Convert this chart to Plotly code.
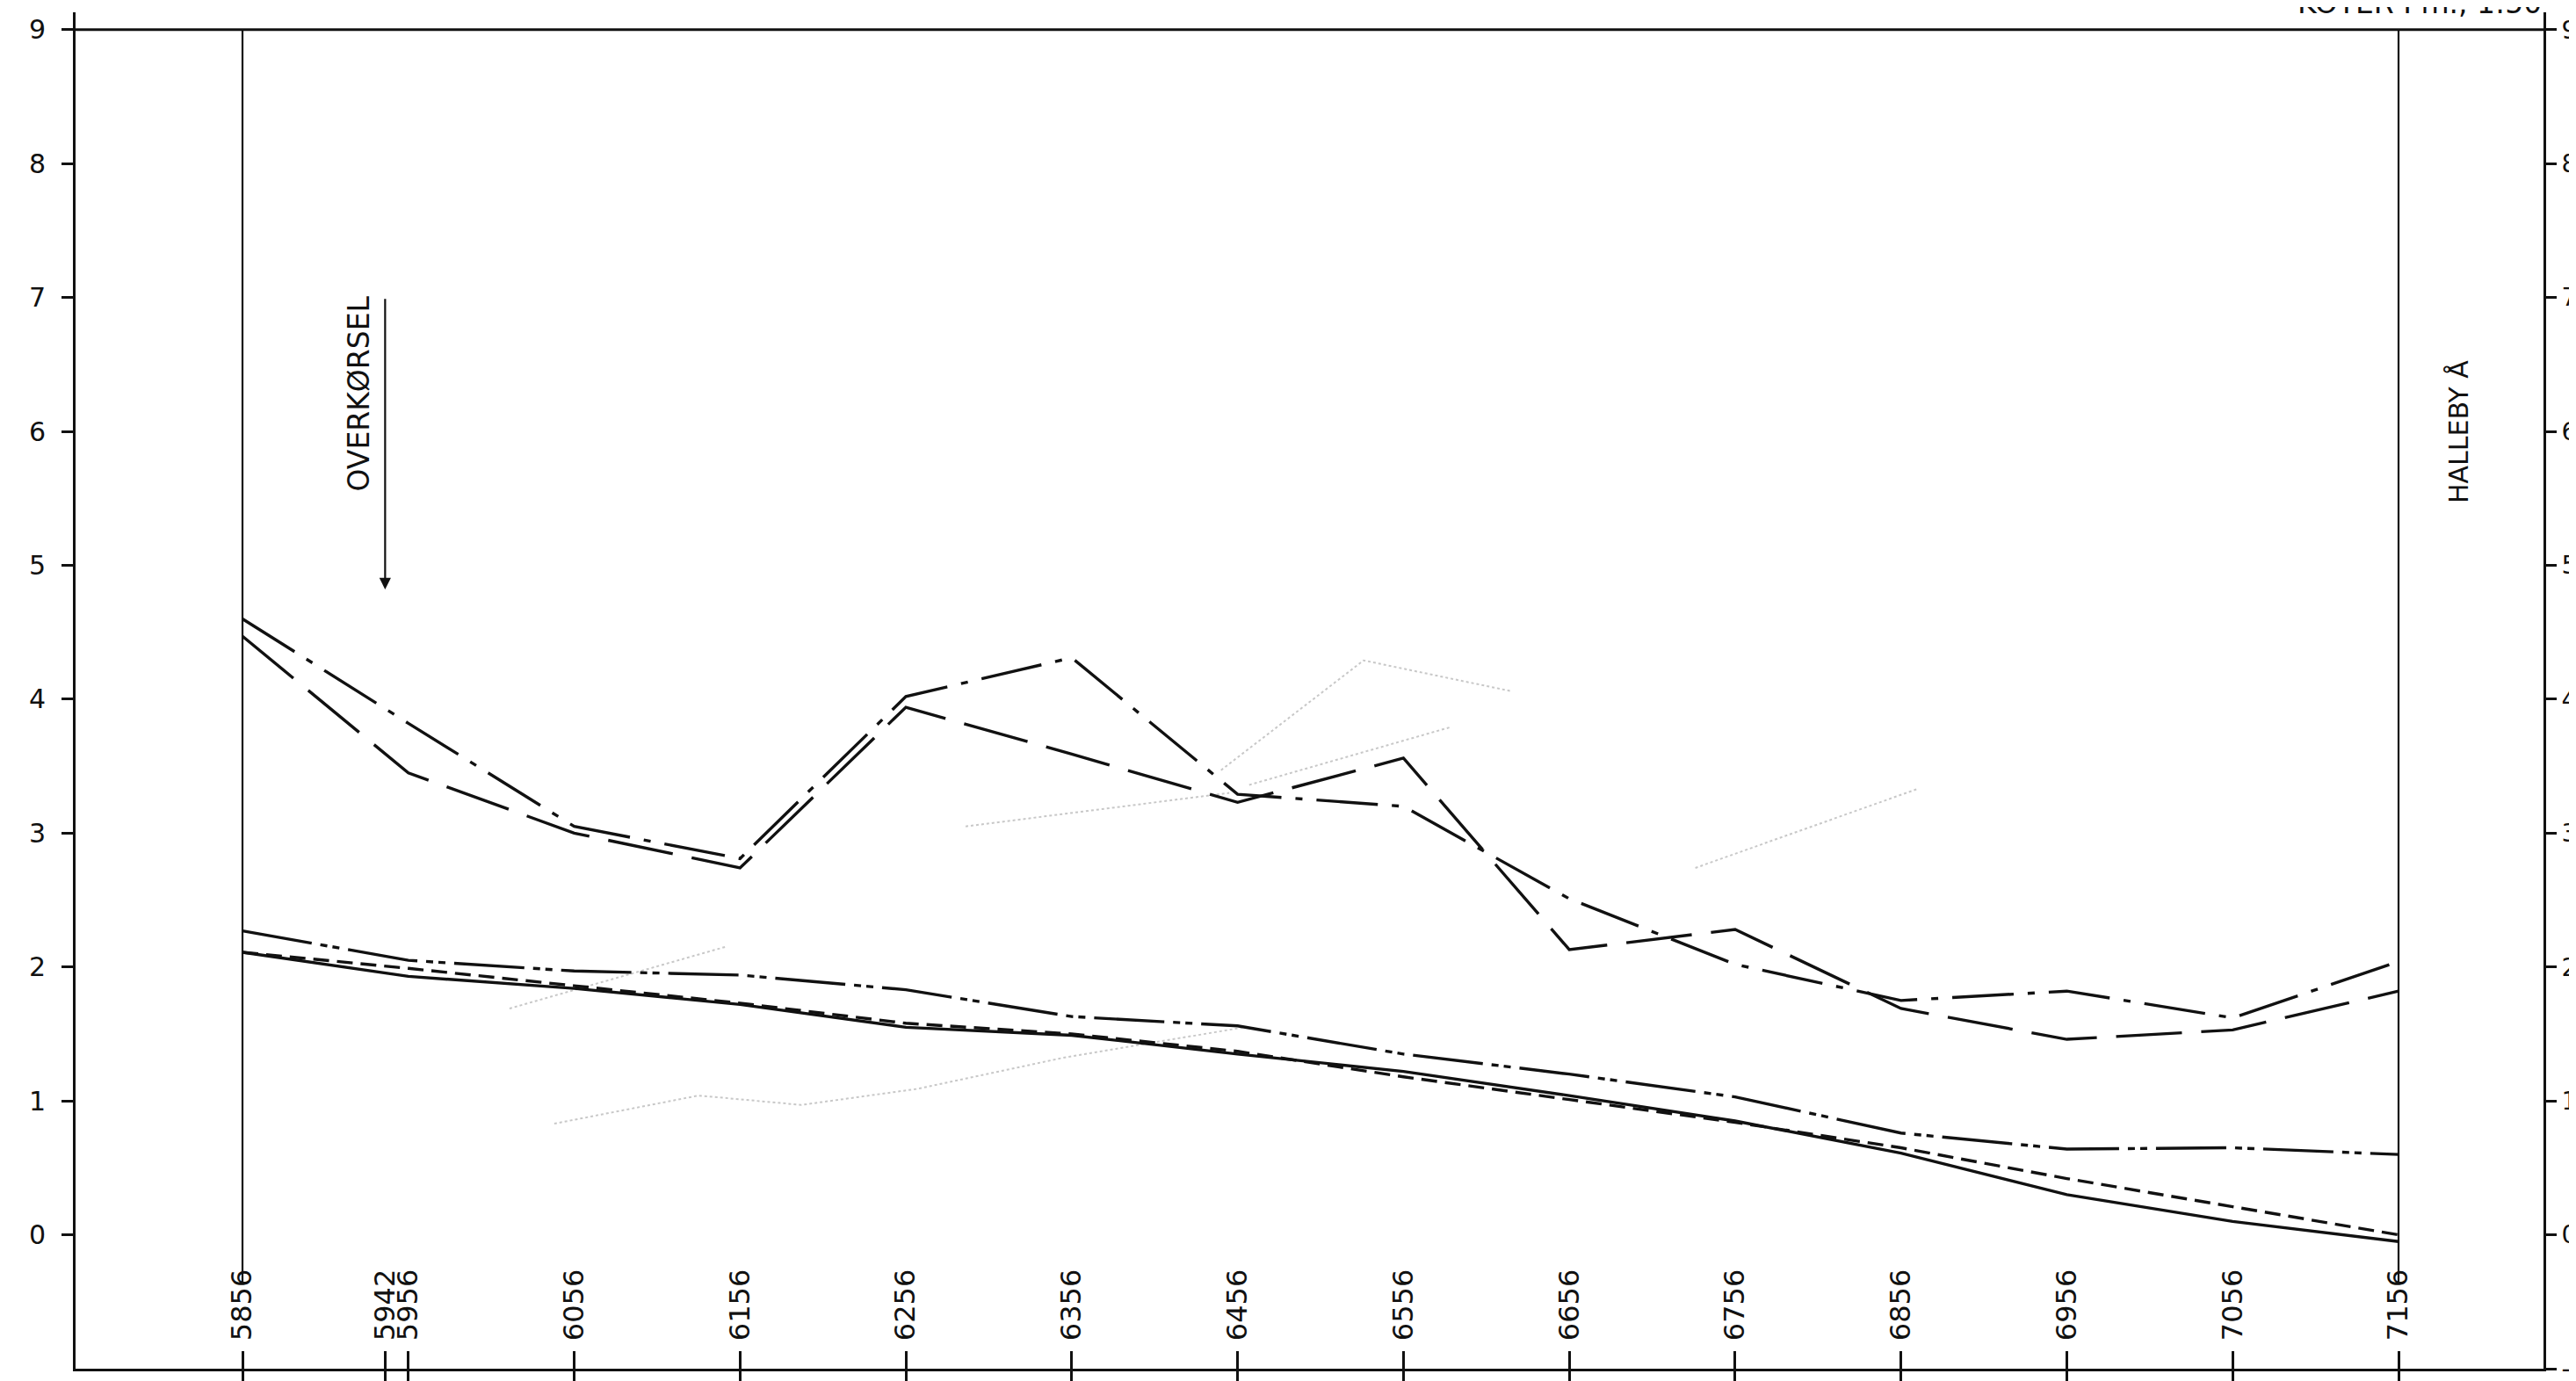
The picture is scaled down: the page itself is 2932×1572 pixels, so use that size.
import plotly.graph_objects as go

# ---------------- data ----------------
stations = [5856, 5956, 6056, 6156, 6256, 6356, 6456, 6556, 6656, 6756, 6856, 6956, 7056, 7156]
tick_stations = [5856, 5942, 5956, 6056, 6156, 6256, 6356, 6456, 6556, 6656, 6756, 6856, 6956, 7056, 7156]
tick_labels = [str(s) for s in tick_stations]

y_ticks = [-1, 0, 1, 2, 3, 4, 5, 6, 7, 8, 9]
y_labels_left = ["- 1", "0", "1", "2", "3", "4", "5", "6", "7", "8", "9"]
y_labels_right = ["-1", "0", "1", "2", "3", "4", "5", "6", "7", "8", "9"]

upper_dashdot = [4.60, 3.82, 3.05, 2.81, 4.02, 4.31, 3.29, 3.20, 2.51, 2.02, 1.75, 1.82, 1.62, 2.04]
upper_longdash = [4.47, 3.45, 3.00, 2.74, 3.94, 3.59, 3.23, 3.56, 2.13, 2.28, 1.69, 1.46, 1.53, 1.82]
lower_dashdot = [2.27, 2.05, 1.97, 1.94, 1.83, 1.63, 1.56, 1.35, 1.20, 1.03, 0.76, 0.64, 0.65, 0.60]
lower_solid = [2.11, 1.93, 1.84, 1.72, 1.55, 1.49, 1.35, 1.22, 1.04, 0.85, 0.61, 0.30, 0.10, -0.05]
lower_dash = [2.11, 1.99, 1.86, 1.73, 1.58, 1.50, 1.37, 1.18, 1.01, 0.84, 0.65, 0.42, 0.21, 0.00]

# faint (ghost) pencil lines visible on the scan
faint_a_x = [6292, 6451]
faint_a_y = [3.05, 3.30]
faint_b_x = [6446, 6532, 6621]
faint_b_y = [3.47, 4.29, 4.06]
faint_c_x = [6463, 6584]
faint_c_y = [3.36, 3.79]
faint_d_x = [6732, 6866]
faint_d_y = [2.74, 3.33]
faint_e_x = [6017, 6147]
faint_e_y = [1.69, 2.15]
faint_f_x = [6044, 6131, 6193, 6263, 6350, 6460]
faint_f_y = [0.83, 1.04, 0.97, 1.09, 1.32, 1.55]

boundary_stations = [5856, 7156]
boundary_top = 9.0
boundary_bottom = -0.35

arrow_station = 5942
arrow_top = 7.0
arrow_tip = 4.82

FONT = "DejaVu Sans, sans-serif"
INK = "#111111"

fig = go.Figure()

# faint lines first (underneath)
for fx, fy in [(faint_a_x, faint_a_y), (faint_b_x, faint_b_y), (faint_c_x, faint_c_y),
               (faint_d_x, faint_d_y), (faint_e_x, faint_e_y), (faint_f_x, faint_f_y)]:
    fig.add_trace(go.Scatter(x=fx, y=fy, mode="lines",
                             line=dict(color="#c8c8c8", width=2, dash="dot"),
                             hoverinfo="skip"))

# boundary verticals (second one drawn on the mirrored axes so they render)
for i, s in enumerate(boundary_stations):
    fig.add_trace(go.Scatter(x=[s, s], y=[boundary_top, boundary_bottom], mode="lines",
                             line=dict(color=INK, width=2.2), hoverinfo="skip",
                             xaxis="x2" if i == 1 else "x", yaxis="y2" if i == 1 else "y"))

series = [
    (upper_dashdot, "70px,16px,8px,16px"),
    (upper_longdash, "75px,22px"),
    (lower_dashdot, "80px,10px,8px,6px,8px,10px"),
    (lower_solid, "solid"),
    (lower_dash, "18px,9px"),
]
for vals, dash in series:
    fig.add_trace(go.Scatter(x=stations, y=vals, mode="lines",
                             line=dict(color=INK, width=3.4, dash=dash)))

fig.update_layout(
    width=2932, height=1572,
    margin=dict(l=78, r=45, t=6, b=22),
    paper_bgcolor="white", plot_bgcolor="white",
    showlegend=False,
    font=dict(family=FONT, color=INK, size=28),
    xaxis=dict(range=[5755.35, 7243.4], tickvals=tick_stations, ticktext=tick_labels,
               tickangle=-90, ticks="inside", ticklen=20, tickwidth=3, tickcolor=INK,
               ticklabelposition="inside", ticklabelstandoff=4, automargin=False,
               tickfont=dict(size=32, family=FONT, color=INK),
               showline=True, linewidth=3, linecolor=INK, showgrid=False, zeroline=False),
    xaxis2=dict(overlaying="x", matches="x", anchor="y", side="bottom",
                tickvals=tick_stations, ticks="outside", ticklen=22, tickwidth=3,
                tickcolor=INK, showticklabels=False, showline=False, automargin=False,
                showgrid=False, zeroline=False),
    yaxis=dict(range=[-1, 9.13], tickvals=y_ticks, ticktext=y_labels_left,
               ticks="outside", ticklen=13, tickwidth=3, tickcolor=INK, automargin=False,
               ticklabelstandoff=12, tickfont=dict(size=30, family=FONT, color=INK),
               showline=True, linewidth=3, linecolor=INK, showgrid=False, zeroline=False),
    yaxis2=dict(overlaying="y", matches="y", anchor="x", side="right",
                tickvals=y_ticks, ticktext=y_labels_right, automargin=False,
                ticks="outside", ticklen=12, tickwidth=3, tickcolor=INK,
                ticklabelstandoff=0, tickfont=dict(size=28, family=FONT, color=INK),
                showline=True, linewidth=3, linecolor=INK, showgrid=False, zeroline=False),
)

# top frame line at elevation 9
fig.add_shape(type="line", xref="paper", x0=0, x1=1, yref="y", y0=9, y1=9,
              line=dict(color=INK, width=3))

# arrow + labels
fig.add_annotation(x=arrow_station, y=arrow_tip, ax=arrow_station, ay=arrow_top,
                   xref="x", yref="y", axref="x", ayref="y",
                   showarrow=True, arrowhead=2, arrowsize=1.2, arrowwidth=2.2,
                   arrowcolor=INK, text="")
fig.add_annotation(x=5926, y=6.28, xref="x", yref="y", text="OVERKØRSEL",
                   textangle=-90, showarrow=False,
                   font=dict(size=33, family=FONT, color=INK))
fig.add_annotation(x=7192, y=6.0, xref="x", yref="y", text="HALLEBY Å",
                   textangle=-90, showarrow=False,
                   font=dict(size=30, family=FONT, color=INK))
fig.add_annotation(x=1, y=1, xref="paper", yref="paper", xanchor="right", yanchor="bottom",
                   yshift=-11, text="KOTER I m., 1:50", showarrow=False,
                   font=dict(size=33, family=FONT, color=INK))

fig.write_html("out.html")
